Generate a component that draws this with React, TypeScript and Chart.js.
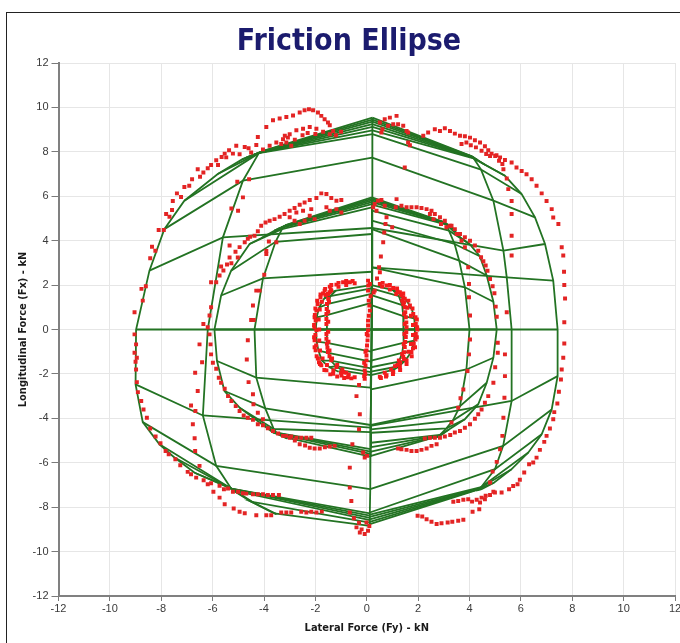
import React, { useEffect, useRef } from "react";
import { Chart, registerables } from "chart.js";

Chart.register(...registerables);

type P = [number, number];

// ---------- axis ----------
const axisMin = -12;
const axisMax = 12;
const axisStep = 2;
const xTitle = "Lateral Force (Fy) - kN";
const yTitle = "Longitudinal Force (Fx) - kN";
const chartTitle = "Friction Ellipse";

// ---------- green meshes (half rows: left = [L2, L1, C], right = [C, R1, R2]) ----------
const outerLeftRows: P[][] = [
  [[-4.50, 7.82], [-4.00, 8.05], [0.22, 9.54]],
  [[-4.55, 7.80], [-4.04, 8.03], [0.22, 9.45]],
  [[-4.60, 7.78], [-4.08, 8.01], [0.22, 9.36]],
  [[-4.69, 7.74], [-4.12, 7.99], [0.22, 9.25]],
  [[-4.85, 7.66], [-4.15, 7.97], [0.22, 9.12]],
  [[-5.80, 7.00], [-4.17, 7.96], [0.22, 8.97]],
  [[-7.10, 5.80], [-4.20, 7.94], [0.22, 8.80]],
  [[-7.88, 4.52], [-4.82, 6.70], [0.21, 7.74]],
  [[-8.46, 2.65], [-5.60, 4.15], [0.21, 4.57]],
  [[-8.98, 0.00], [-6.19, 0.00], [0.20, 0.00]],
  [[-9.00, -2.47], [-6.38, -3.87], [0.15, -4.42]],
  [[-8.72, -4.17], [-5.86, -6.14], [0.13, -7.19]],
  [[-8.07, -5.17], [-5.28, -7.16], [0.12, -8.28]],
  [[-7.50, -5.75], [-5.27, -7.17], [0.12, -8.38]],
  [[-6.70, -6.45], [-5.26, -7.18], [0.12, -8.48]],
  [[-5.34, -7.11], [-5.20, -7.25], [0.12, -8.58]],
  [[-4.40, -7.80], [-4.50, -7.75], [0.12, -8.70]],
  [[-3.52, -8.31], [-3.60, -8.28], [0.12, -8.84]],
];
const outerRightRows: P[][] = [
  [[0.22, 9.54], [3.95, 7.86], [4.10, 7.80]],
  [[0.22, 9.45], [4.00, 7.83], [4.15, 7.76]],
  [[0.22, 9.36], [4.05, 7.80], [4.20, 7.72]],
  [[0.22, 9.25], [4.08, 7.77], [4.30, 7.64]],
  [[0.22, 9.12], [4.12, 7.74], [4.60, 7.42]],
  [[0.22, 8.97], [4.16, 7.71], [5.38, 6.92]],
  [[0.22, 8.80], [4.45, 7.20], [6.03, 6.10]],
  [[0.21, 7.74], [4.93, 5.80], [6.55, 5.05]],
  [[0.21, 4.57], [5.32, 3.55], [6.94, 3.85]],
  [[0.21, 2.80], [5.45, 2.35], [7.26, 2.20]],
  [[0.20, 0.00], [5.64, 0.00], [7.43, 0.00]],
  [[0.15, -4.34], [5.64, -3.22], [7.43, -2.10]],
  [[0.13, -7.19], [5.31, -5.24], [7.20, -3.60]],
  [[0.12, -8.24], [4.99, -6.29], [6.81, -4.72]],
  [[0.12, -8.34], [4.45, -7.10], [6.29, -5.54]],
  [[0.12, -8.44], [4.36, -7.17], [5.64, -6.29]],
  [[0.12, -8.55], [4.34, -7.19], [4.95, -6.90]],
  [[0.12, -8.66], [4.32, -7.20], [4.47, -7.19]],
  [[0.12, -8.76], [4.30, -7.22], [4.30, -7.25]],
];
const middleLeftRows: P[][] = [
  [[-3.30, 4.60], [-3.10, 4.72], [0.20, 5.95]],
  [[-3.35, 4.58], [-3.13, 4.70], [0.20, 5.88]],
  [[-3.42, 4.55], [-3.16, 4.68], [0.20, 5.81]],
  [[-3.60, 4.45], [-3.20, 4.65], [0.20, 5.74]],
  [[-4.10, 4.12], [-3.24, 4.60], [0.20, 5.65]],
  [[-4.56, 3.85], [-3.30, 4.52], [0.20, 5.50]],
  [[-5.28, 2.65], [-3.55, 3.95], [0.20, 4.30]],
  [[-5.67, 1.53], [-4.04, 2.30], [0.20, 2.60]],
  [[-5.93, 0.00], [-4.37, 0.00], [0.20, 0.00]],
  [[-5.83, -1.42], [-4.30, -2.17], [0.15, -2.62]],
  [[-5.54, -2.77], [-3.95, -3.55], [0.15, -4.30]],
  [[-4.95, -3.52], [-3.62, -4.48], [0.15, -4.62]],
  [[-4.17, -4.19], [-3.52, -4.64], [0.15, -5.39]],
  [[-3.65, -4.64], [-3.50, -4.66], [0.15, -5.50]],
  [[-3.45, -4.72], [-3.45, -4.70], [0.15, -5.60]],
  [[-3.10, -4.90], [-3.20, -4.85], [0.15, -5.72]],
];
const middleRightRows: P[][] = [
  [[0.20, 5.95], [2.90, 4.88], [3.00, 4.83]],
  [[0.20, 5.88], [2.95, 4.85], [3.08, 4.78]],
  [[0.20, 5.81], [3.00, 4.82], [3.18, 4.70]],
  [[0.20, 5.74], [3.05, 4.78], [3.35, 4.55]],
  [[0.20, 5.62], [3.10, 4.72], [3.63, 4.15]],
  [[0.20, 5.35], [3.20, 4.45], [4.00, 3.85]],
  [[0.20, 4.90], [3.42, 3.85], [4.40, 3.30]],
  [[0.20, 4.52], [3.60, 3.10], [4.67, 2.43]],
  [[0.20, 2.80], [3.82, 1.90], [4.93, 1.25]],
  [[0.20, 0.00], [4.00, 0.00], [5.06, 0.00]],
  [[0.17, -2.70], [3.88, -1.80], [4.93, -1.27]],
  [[0.17, -4.30], [3.63, -3.45], [4.67, -2.40]],
  [[0.17, -4.50], [3.35, -4.10], [4.34, -3.37]],
  [[0.17, -4.65], [3.10, -4.45], [3.82, -4.04]],
  [[0.17, -5.10], [2.85, -4.75], [3.20, -4.50]],
  [[0.17, -5.30], [2.80, -4.78], [2.90, -4.75]],
  [[0.17, -5.50], [2.78, -4.80], [2.80, -4.80]],
  [[0.17, -5.69], [2.76, -4.81], [2.70, -4.86]],
];
const innerLeftRows: P[][] = [
  [[-1.35, 1.70], [-1.20, 1.75], [0.18, 2.00]],
  [[-1.65, 1.40], [-1.42, 1.50], [0.18, 1.85]],
  [[-1.85, 1.00], [-1.50, 1.15], [0.18, 1.60]],
  [[-1.95, 0.55], [-1.55, 0.65], [0.18, 1.20]],
  [[-1.98, 0.00], [-1.55, 0.00], [0.18, 0.00]],
  [[-1.95, -0.55], [-1.55, -0.60], [0.17, -1.00]],
  [[-1.88, -0.95], [-1.50, -1.05], [0.17, -1.45]],
  [[-1.75, -1.40], [-1.40, -1.40], [0.16, -1.75]],
  [[-1.45, -1.70], [-1.20, -1.65], [0.16, -1.92]],
  [[-1.10, -1.90], [-0.95, -1.85], [0.16, -2.05]],
];
const innerRightRows: P[][] = [
  [[0.18, 2.00], [1.00, 1.78], [1.15, 1.72]],
  [[0.18, 1.85], [1.25, 1.50], [1.50, 1.38]],
  [[0.18, 1.55], [1.38, 1.10], [1.75, 0.95]],
  [[0.18, 1.10], [1.42, 0.60], [1.85, 0.50]],
  [[0.18, 0.00], [1.45, 0.00], [1.88, 0.00]],
  [[0.17, -0.95], [1.42, -0.60], [1.85, -0.50]],
  [[0.17, -1.40], [1.38, -1.05], [1.75, -0.98]],
  [[0.16, -1.70], [1.25, -1.45], [1.50, -1.40]],
  [[0.16, -1.90], [1.05, -1.70], [1.20, -1.70]],
  [[0.16, -2.05], [0.90, -1.85], [1.00, -1.85]],
];

// ---------- red measured points ----------
const redOuterLeft: P[] = [
  [-9.04, 0.78], [-8.72, 1.3], [-8.77, 1.83], [-8.6, 1.95], [-8.43, 3.21], [-8.36, 3.73], [-8.23, 3.55],
  [-8.1, 4.48], [-7.9, 4.48], [-7.81, 5.2], [-7.68, 5.08], [-7.58, 5.38], [-7.55, 5.79], [-7.39, 6.13],
  [-7.23, 5.97], [-7.1, 6.42], [-6.91, 6.47], [-6.8, 6.77], [-6.58, 7.22], [-6.49, 6.88], [-6.36, 7.07],
  [-6.19, 7.26], [-6.06, 7.41], [-5.86, 7.62], [-5.79, 7.41], [-5.65, 7.77], [-5.47, 7.75], [-5.53, 7.92],
  [-5.36, 8.07], [-5.21, 7.92], [-5.08, 8.27], [-4.95, 7.89], [-4.75, 8.22], [-4.6, 8.16], [-4.5, 7.97],
  [-4.3, 8.31], [-4.24, 8.67], [-4.04, 8.11], [-3.91, 9.12], [-3.78, 8.27], [-3.65, 9.42], [-3.52, 8.42],
  [-3.33, 8.35], [-3.13, 8.42], [-2.94, 8.27], [-3.26, 8.57], [-3.07, 8.64], [-3.19, 8.72], [-3.39, 9.5],
  [-3.13, 9.57], [-2.87, 9.64], [-2.61, 9.77], [-2.42, 9.87], [-2.25, 9.92], [-2.09, 9.87], [-1.9, 9.77],
  [-1.77, 9.62], [-1.64, 9.47], [-1.51, 9.32], [-1.44, 9.2], [-2.48, 9.04], [-2.22, 9.12], [-1.96, 9.04],
  [-1.7, 8.9], [-1.44, 8.79], [-1.31, 8.94], [-2.74, 8.97], [-3.0, 8.79], [-2.8, 8.55], [-2.5, 8.75],
  [-2.3, 8.85], [-2.0, 8.8], [-1.2, 8.75], [-1.0, 8.9],
  [-9.04, -0.22], [-8.98, -0.67], [-9.04, -1.05], [-8.95, -1.27], [-9.0, -1.45], [-8.98, -1.8],
  [-8.95, -2.37], [-8.91, -2.82], [-8.78, -3.22], [-8.69, -3.6], [-8.56, -3.97], [-8.43, -4.46],
  [-8.22, -4.82], [-8.03, -5.12], [-7.83, -5.47], [-7.71, -5.62], [-7.45, -5.84], [-7.26, -6.11],
  [-6.97, -6.41], [-6.84, -6.52], [-6.64, -6.67], [-6.35, -6.79], [-6.19, -6.97], [-6.06, -6.92],
  [-5.97, -7.31], [-5.73, -7.04], [-5.56, -7.19], [-5.4, -7.16], [-5.21, -7.31], [-5.01, -7.31],
  [-4.82, -7.37], [-4.69, -7.39], [-4.43, -7.42], [-4.24, -7.42], [-4.04, -7.42], [-3.85, -7.45],
  [-3.65, -7.45], [-3.42, -7.45], [-5.73, -7.57], [-5.53, -7.87], [-5.18, -8.06], [-4.95, -8.21],
  [-4.75, -8.27], [-4.3, -8.36], [-3.91, -8.36], [-3.72, -8.36], [-3.33, -8.24], [-3.13, -8.24],
  [-2.94, -8.24], [-2.55, -8.21], [-2.35, -8.24], [-2.16, -8.21], [-1.96, -8.24], [-1.75, -8.2],
];
const redOuterRight: P[] = [
  [0.51, 9.32], [0.7, 9.47], [0.9, 9.54], [1.16, 9.62], [0.61, 9.02], [0.83, 9.17], [1.03, 9.24],
  [1.22, 9.24], [1.42, 9.17], [1.55, 8.94], [1.61, 8.87], [0.57, 8.87], [1.61, 8.42], [1.68, 8.3], [1.48, 7.29],
  [2.2, 8.72], [2.39, 8.87], [2.65, 9.02], [2.85, 8.94], [3.04, 9.06], [3.24, 8.94], [3.43, 8.82],
  [3.63, 8.72], [3.82, 8.7], [4.02, 8.64], [4.21, 8.52], [4.41, 8.42], [4.6, 8.25], [4.73, 8.07],
  [4.86, 7.92], [5.05, 7.85], [5.19, 7.75], [5.38, 7.63], [5.64, 7.52], [5.83, 7.29], [6.03, 7.14],
  [6.22, 6.99], [6.42, 6.77], [6.61, 6.47], [6.81, 6.13], [7.0, 5.79], [7.2, 5.42], [7.26, 5.04],
  [7.46, 4.75], [7.59, 3.7], [7.65, 3.33], [7.68, 2.6], [7.69, 2.0], [7.72, 1.4], [7.69, 0.33],
  [3.69, 8.35], [3.88, 8.42], [4.05, 8.3], [4.25, 8.2], [4.47, 8.05], [4.65, 7.9], [4.8, 7.81],
  [5.0, 7.81], [5.15, 7.6], [5.28, 7.45],
  [5.32, 7.22], [5.45, 6.8], [5.51, 6.32], [5.64, 5.79], [5.64, 5.2], [5.64, 4.22], [5.64, 3.33], [5.45, 0.78],
  [7.69, -0.63], [7.65, -1.27], [7.59, -1.8], [7.56, -2.25], [7.48, -2.8], [7.42, -3.33], [7.3, -3.72],
  [7.26, -4.04], [7.13, -4.46], [7.0, -4.79], [6.91, -5.06], [6.74, -5.42], [6.61, -5.77], [6.48, -5.99],
  [6.32, -6.07], [6.13, -6.44], [5.96, -6.77], [5.87, -6.97], [5.7, -7.05], [5.54, -7.19], [5.25, -7.34],
  [4.93, -7.31], [4.6, -7.64], [4.38, -8.09], [4.12, -8.21], [3.76, -8.57], [3.56, -8.61], [3.33, -8.66],
  [3.15, -8.69], [2.91, -8.72], [2.72, -8.76], [2.52, -8.66], [2.33, -8.54], [2.16, -8.42], [1.98, -8.39],
  [3.37, -7.76], [3.56, -7.72], [3.76, -7.67], [3.95, -7.64], [4.1, -7.75], [4.28, -7.67], [4.47, -7.57],
  [4.63, -7.49], [4.8, -7.45], [4.99, -7.34], [4.41, -7.79],
  [5.38, -1.12], [5.38, -2.1], [5.36, -3.07], [5.32, -3.97], [5.28, -4.79], [5.19, -5.39], [5.06, -5.96],
  [4.9, -6.4], [4.8, -6.89],
];
const redMiddleLeft: P[] = [
  [-6.19, 0.1], [-6.36, 0.25], [-6.12, 0.63], [-6.06, 1.0], [-6.06, 2.13], [-5.86, 2.13], [-5.73, 2.43],
  [-5.58, 2.66], [-5.67, 2.84], [-5.44, 2.93], [-5.34, 3.24], [-5.27, 2.98], [-5.11, 3.5], [-5.02, 3.24],
  [-5.34, 3.78], [-4.95, 3.71], [-4.75, 3.93], [-4.63, 4.08], [-4.54, 4.18], [-4.37, 4.22], [-4.24, 4.42],
  [-4.11, 4.67], [-3.94, 4.82], [-3.78, 4.9], [-3.59, 4.97], [-3.39, 5.08], [-3.2, 5.2], [-3.0, 5.35],
  [-2.81, 5.47], [-2.61, 5.62], [-2.42, 5.72], [-2.22, 5.83], [-1.96, 5.92], [-1.77, 6.13], [-1.57, 6.1],
  [-1.38, 5.92], [-1.18, 5.8], [-0.99, 5.83], [-3.0, 5.05], [-2.81, 4.9], [-2.61, 4.75], [-2.42, 4.9],
  [-2.22, 5.12], [-2.03, 4.97], [-2.16, 5.42], [-2.48, 5.35], [-2.74, 5.27], [-1.44, 5.35], [-1.18, 5.42],
  [-0.99, 5.27], [-1.57, 5.5], [-4.82, 5.95], [-5.01, 5.35], [-5.27, 5.45], [-5.04, 6.65], [-4.58, 6.77],
  [-3.91, 3.54], [-3.81, 3.96], [-3.91, 3.4], [-3.99, 2.47], [-4.3, 1.75], [-4.17, 1.75], [-4.43, 1.08],
  [-4.5, 0.43], [-4.4, 0.43], [-3.52, 3.93],
  [-6.51, -0.67], [-6.41, -1.47], [-6.68, -1.95], [-6.58, -2.77], [-6.84, -3.42], [-6.67, -3.67],
  [-6.77, -4.27], [-6.7, -4.9], [-6.68, -5.47], [-6.51, -6.14],
  [-6.12, -0.22], [-6.08, -0.67], [-6.06, -1.12], [-5.99, -1.5], [-5.86, -1.77], [-5.76, -2.17],
  [-5.67, -2.4], [-5.53, -2.67], [-5.4, -3.0], [-5.27, -3.22], [-5.1, -3.45], [-4.95, -3.67],
  [-4.79, -3.87], [-4.63, -3.97], [-4.43, -4.07], [-4.24, -4.27], [-4.04, -4.31], [-3.85, -4.45],
  [-3.65, -4.57], [-3.45, -4.68], [-3.26, -4.79], [-3.0, -4.87], [-2.8, -5.0], [-2.61, -5.17],
  [-2.4, -5.22], [-2.22, -5.32], [-2.03, -5.36], [-1.83, -5.36], [-1.63, -5.3], [-1.44, -5.27], [-1.25, -5.24],
  [-3.13, -4.79], [-2.94, -4.82], [-2.74, -4.87], [-2.55, -4.87], [-2.35, -4.87], [-2.16, -4.87],
  [-4.63, -0.48], [-4.67, -1.35], [-4.6, -2.37], [-4.43, -2.92], [-4.41, -3.37], [-4.24, -3.75], [-4.04, -4.04],
];
const redMiddleRight: P[] = [
  [0.31, 5.65], [0.44, 5.8], [0.57, 5.83], [0.7, 5.57], [0.38, 5.35], [0.25, 5.5], [0.77, 5.05],
  [0.73, 4.75], [0.68, 4.37], [0.99, 4.6], [0.64, 3.93], [0.55, 3.29], [0.48, 2.8], [0.4, 2.3],
  [0.31, 1.75], [1.16, 5.87], [1.13, 5.5],
  [1.35, 5.57], [1.55, 5.5], [1.74, 5.5], [1.94, 5.5], [2.13, 5.47], [2.33, 5.42], [2.52, 5.35],
  [2.65, 5.2], [2.85, 5.05], [3.04, 4.9], [3.24, 4.67], [3.43, 4.52], [3.63, 4.3], [3.82, 4.15],
  [4.02, 4.0], [4.21, 3.78], [4.34, 3.55], [4.45, 3.25], [4.54, 3.07], [4.63, 2.88], [4.7, 2.65],
  [4.8, 2.27], [4.9, 1.95], [4.97, 1.63], [5.02, 1.03], [5.06, 0.57],
  [2.46, 5.2], [2.6, 4.97], [2.89, 4.75], [3.1, 4.6], [3.3, 4.67], [3.5, 4.3], [3.69, 4.0], [3.82, 3.7],
  [3.95, 2.8], [3.98, 2.05], [3.98, 1.45], [4.02, 0.63],
  [5.1, -0.6], [5.1, -1.05], [5.0, -1.7], [4.93, -2.4], [4.73, -3.0], [4.6, -3.3], [4.47, -3.6],
  [4.34, -3.82], [4.21, -4.02], [4.02, -4.27], [3.82, -4.42], [3.63, -4.57], [3.43, -4.64], [3.25, -4.75],
  [3.04, -4.82], [2.85, -4.87], [2.65, -4.87], [2.46, -4.87], [2.26, -4.91],
  [2.72, -5.17], [2.52, -5.24], [2.33, -5.36], [2.13, -5.42], [1.94, -5.47], [1.74, -5.47], [1.55, -5.42],
  [1.35, -5.39], [1.22, -5.36],
  [4.02, -0.45], [3.98, -1.12], [3.92, -1.87], [3.76, -2.7], [3.65, -3.1], [3.56, -3.52], [3.3, -4.19],
];
const redCenterTrail: P[] = [
  [-0.3, -2.5], [-0.4, -3.0], [-0.27, -3.82], [-0.3, -4.49], [-0.56, -5.17], [-0.14, -5.54], [0.01, -5.69],
  [-0.08, -5.77], [-0.66, -6.22], [-0.66, -7.12], [-0.6, -7.72], [-0.66, -8.24], [-0.5, -8.5], [-0.3, -8.7],
  [-0.4, -8.91], [-0.27, -9.14], [-0.08, -9.21], [0.05, -9.06], [-0.01, -8.69], [-0.2, -9.0], [0.1, -8.85],
];
const redInnerRing: P[] = [
  [-1.96, -0.04], [-1.99, 0.4], [-1.96, 0.85], [-1.91, 1.15], [-1.8, 1.45], [-1.64, 1.75], [-1.44, 1.93],
  [-1.18, 2.02], [-0.92, 2.13], [-0.66, 2.13], [-0.47, 2.08], [-2.03, -0.49], [-1.99, -0.94], [-1.9, -1.31],
  [-1.77, -1.61], [-1.57, -1.84], [-1.31, -1.99], [-0.98, -2.07], [-0.73, -2.15], [-0.47, -2.15],
  [-1.85, 0.0], [-1.87, 0.45], [-1.83, 0.9], [-1.75, 1.25], [-1.6, 1.55], [-1.4, 1.8], [-1.1, 1.92],
  [-0.8, 2.0], [-1.85, -0.5], [-1.82, -0.95], [-1.72, -1.3], [-1.55, -1.6], [-1.3, -1.85], [-1.0, -1.95],
  [-0.7, -2.02], [-2.05, 0.2], [-2.02, 0.65], [-2.0, -0.25], [-1.97, -0.72], [-1.86, -1.47], [-1.7, 1.62],
  [-2.04, 0.1], [-2.03, 0.55], [-2.0, 0.95], [-1.93, 1.3], [-1.8, 1.58], [-1.62, 1.83], [-1.38, 2.0],
  [-1.1, 2.1], [-0.8, 2.18], [-0.55, 2.18], [-2.05, -0.35], [-2.03, -0.8], [-1.95, -1.2], [-1.82, -1.55],
  [-1.65, -1.82], [-1.42, -2.02], [-1.15, -2.12], [-0.88, -2.18], [-0.6, -2.2],
  [0.51, 2.05], [0.77, 1.98], [1.03, 1.87], [1.29, 1.68], [1.48, 1.38], [1.68, 1.08], [1.81, 0.7],
  [1.91, 0.25], [1.91, -0.2], [1.83, -0.64], [1.74, -1.01], [1.55, -1.39], [1.29, -1.69], [1.03, -1.91],
  [0.77, -2.06], [0.51, -2.13], [0.6, 1.93], [0.9, 1.8], [1.15, 1.6], [1.38, 1.3], [1.58, 0.98],
  [1.72, 0.62], [1.8, 0.2], [1.8, -0.25], [1.72, -0.65], [1.62, -1.0], [1.45, -1.33], [1.2, -1.6],
  [0.95, -1.8], [0.7, -1.95], [1.97, 0.0], [1.95, 0.45], [1.9, -0.45], [1.8, -0.85],
  [0.62, 2.1], [0.9, 2.0], [1.18, 1.85], [1.42, 1.62], [1.62, 1.3], [1.78, 0.95], [1.9, 0.55], [1.96, 0.1],
  [1.95, -0.35], [1.88, -0.8], [1.75, -1.2], [1.55, -1.55], [1.3, -1.82], [1.02, -2.0], [0.75, -2.12], [0.55, -2.18],
];
const redInnerArcs: P[] = [
  [-1.51, 1.6], [-1.55, 1.15], [-1.57, 0.7], [-1.57, 0.25], [-1.57, -0.2], [-1.55, -0.64], [-1.51, -1.01],
  [-1.38, -1.39], [-1.18, -1.69], [-0.92, -1.91], [-1.38, 1.75], [-1.5, 1.38], [-1.56, 0.92], [-1.57, 0.47],
  [-1.57, -0.42], [-1.53, -0.82], [-1.45, -1.2],
  [-1.45, 1.68], [-1.47, 1.25], [-1.5, 0.8], [-1.5, 0.35], [-1.5, -0.1], [-1.49, -0.55], [-1.45, -0.95],
  [-1.35, -1.3], [-1.15, -1.6], [-0.95, -1.8], [-0.8, -1.95],
  [1.42, 1.45], [1.48, 1.0], [1.52, 0.55], [1.55, 0.1], [1.52, -0.34], [1.48, -0.79], [1.42, -1.24],
  [1.3, -1.5], [1.45, 1.22], [1.5, 0.78], [1.54, 0.32], [1.54, -0.12], [1.5, -0.56], [1.45, -1.02],
  [1.35, 1.55], [1.42, 1.15], [1.46, 0.7], [1.48, 0.25], [1.47, -0.2], [1.44, -0.65], [1.38, -1.1],
  [1.25, -1.4], [1.1, -1.65], [1.2, 1.7],
  [0.05, 2.2], [0.05, 1.75], [0.08, 1.3], [0.12, 0.85], [0.05, 0.4], [0.05, -0.04], [0.03, -0.49],
  [-0.01, -0.94], [-0.01, -1.39], [-0.08, -1.84], [-0.08, -2.22], [0.51, 2.58], [0.27, 1.66], [0.06, 1.98],
  [0.1, 1.08], [0.08, 0.62], [0.05, 0.18], [0.04, -0.27], [0.01, -0.72], [-0.01, -1.17], [-0.05, -1.62],
  [-0.06, -2.0], [0.12, 2.05], [0.15, 1.5], [0.0, -0.2], [-0.05, -1.0], [-0.1, -1.5], [-0.1, -2.1],
];

// ---------- build mesh polylines from the half-row tables ----------
function meshLines(left: P[][], right: P[][]): P[][] {
  const lines: P[][] = [];
  left.forEach((r) => lines.push(r));
  right.forEach((r) => lines.push(r));
  lines.push(left.map((r) => r[0]));
  lines.push(left.map((r) => r[1]));
  lines.push(right.map((r) => r[1]));
  lines.push(right.map((r) => r[2]));
  const centre = [...left.map((r) => r[2]), ...right.map((r) => r[0])].sort((a, b) => b[1] - a[1]);
  lines.push(centre);
  return lines;
}

const GREEN = "#237323";
const RED = "#e32424";
const RED_INNER = "#f21c1c";
const tickFont = { family: "'Liberation Sans', Arial, sans-serif", size: 11 };
const titleFont = { family: "'DejaVu Sans Condensed', 'DejaVu Sans', sans-serif", size: 11, weight: "bold" as const };

export default function App() {
  const ref = useRef<HTMLCanvasElement | null>(null);

  useEffect(() => {
    if (!ref.current) return;
    const meshes = [
      ...meshLines(outerLeftRows, outerRightRows),
      ...meshLines(middleLeftRows, middleRightRows),
      ...meshLines(innerLeftRows, innerRightRows),
    ];
    const redOuterAll = [...redOuterLeft, ...redOuterRight, ...redMiddleLeft, ...redMiddleRight, ...redCenterTrail];
    const redInnerAll = [...redInnerRing, ...redInnerArcs];

    const pointSet = (label: string, pts: P[], color: string) => ({
      label,
      data: pts.map(([x, y]) => ({ x, y })),
      showLine: false,
      pointStyle: "rect",
      pointRadius: 2.8,
      pointBorderWidth: 0,
      backgroundColor: color,
      borderColor: color,
      order: 0,
    });

    const datasets: any[] = [
      pointSet("Measured", redOuterAll, RED),
      pointSet("Measured (low load)", redInnerAll, RED_INNER),
      ...meshes.map((line, i) => ({
        label: "mesh" + i,
        data: line.map(([x, y]) => ({ x, y })),
        showLine: true,
        borderColor: GREEN,
        borderWidth: 1.8,
        pointRadius: 0,
        fill: false,
        tension: 0,
        order: 1,
      })),
    ];

    const chart = new Chart(ref.current, {
      type: "scatter",
      data: { datasets },
      options: {
        animation: false,
        responsive: false,
        devicePixelRatio: 1,
        events: [],
        layout: { padding: { left: 0, top: 63, right: 25, bottom: 0 } },
        plugins: { legend: { display: false }, tooltip: { enabled: false }, title: { display: false } },
        scales: {
          x: {
            type: "linear",
            min: axisMin,
            max: axisMax,
            ticks: { stepSize: axisStep, font: tickFont, color: "#3a3a3a", padding: 1 },
            grid: { color: "#e6e6e6", lineWidth: 1, tickLength: 5, tickColor: "#7a7a7a" },
            border: { color: "#808080", width: 2 },
            title: { display: true, text: xTitle, font: titleFont, color: "#1a1a1a", padding: { top: 0, bottom: 8 } },
            afterFit: (s: any) => { s.height = 47; },
          },
          y: {
            type: "linear",
            min: axisMin,
            max: axisMax,
            ticks: { stepSize: axisStep, font: tickFont, color: "#3a3a3a", padding: 3 },
            grid: { color: "#e6e6e6", lineWidth: 1, tickLength: 7, tickColor: "#7a7a7a" },
            border: { color: "#808080", width: 2 },
            title: { display: true, text: yTitle, font: titleFont, color: "#1a1a1a", padding: { top: 17, bottom: 0 } },
            afterFit: (s: any) => { s.width = 58.5; },
          },
        },
      },
    });
    return () => chart.destroy();
  }, []);

  return (
    <div style={{ position: "fixed", left: 0, top: 0, width: 680, height: 643, overflow: "hidden", background: "#fff" }}>
      <div style={{ position: "absolute", left: 6, top: 12, width: 740, height: 720, border: "1px solid #222", boxSizing: "border-box" }} />
      <canvas ref={ref} width={700} height={643} style={{ position: "absolute", left: 0, top: 0, width: 700, height: 643 }} />
      <div
        style={{
          position: "absolute",
          left: 0,
          top: 22,
          width: 698,
          textAlign: "center",
          fontFamily: "'DejaVu Sans Condensed', 'DejaVu Sans', sans-serif",
          fontStretch: "condensed",
          fontWeight: "bold",
          fontSize: 30,
          lineHeight: "36px",
          color: "#1b1b6e",
        }}
      >
        {chartTitle}
      </div>
    </div>
  );
}
